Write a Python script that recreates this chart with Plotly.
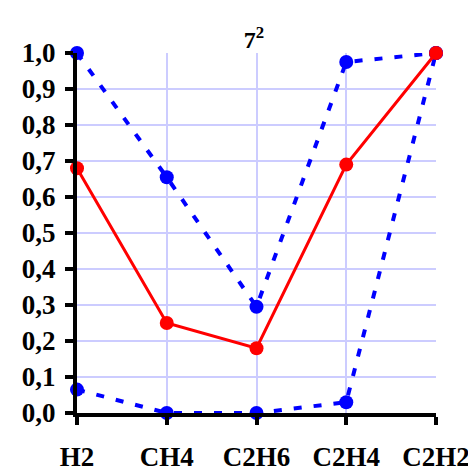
import plotly.graph_objects as go

categories = ["H2", "CH4", "C2H6", "C2H4", "C2H2"]
upper_blue = [1.0, 0.655, 0.295, 0.975, 1.0]
red_mid = [0.68, 0.25, 0.18, 0.69, 1.0]
lower_blue = [0.065, 0.0, 0.0, 0.03, 1.0]
y_ticks = [0.0, 0.1, 0.2, 0.3, 0.4, 0.5, 0.6, 0.7, 0.8, 0.9, 1.0]

# page has an 8px body margin; the figure is sized to fit the 476x475 window
W, H = 468, 467
xs = list(range(len(categories)))
fig = go.Figure()
fig.add_trace(go.Scatter(x=xs, y=upper_blue, mode="lines+markers",
                         line=dict(color="#0000ff", width=4, dash="8px,12px"),
                         marker=dict(color="#0000ff", size=14), cliponaxis=False))
fig.add_trace(go.Scatter(x=xs, y=lower_blue, mode="lines+markers",
                         line=dict(color="#0000ff", width=4, dash="8px,12px"),
                         marker=dict(color="#0000ff", size=14), cliponaxis=False))
fig.add_trace(go.Scatter(x=xs, y=red_mid, mode="lines+markers",
                         line=dict(color="#ff0000", width=3),
                         marker=dict(color="#ff0000", size=14), cliponaxis=False))

font = dict(family="Liberation Serif", size=27, color="black")
fig.update_layout(
    width=W, height=H, showlegend=False,
    plot_bgcolor="white", paper_bgcolor="white",
    separators=", ",
    margin=dict(l=69, r=W - 428, t=45, b=H - 405, autoexpand=False),
    title=dict(text="<b>7<sup>2</sup></b>", x=246 / W, xanchor="center",
               y=1 - 32 / H, yanchor="middle",
               font=dict(family="Liberation Serif", size=24, color="black")),
)
fig.update_xaxes(
    tickmode="array", tickvals=xs, ticktext=[f"<b>{c}</b>" for c in categories],
    range=[0, len(categories) - 1], showgrid=True, gridcolor="#ccccff", gridwidth=1.5,
    showline=True, linecolor="black", linewidth=4, ticks="outside", ticklen=8, tickwidth=4,
    tickcolor="black", tickfont=font, ticklabelstandoff=9, zeroline=False, automargin=False,
)
fig.update_yaxes(
    tickmode="array", tickvals=y_ticks, ticktext=[f"<b>{v:.1f}</b>".replace(".", ",") for v in y_ticks],
    range=[0, 1], showgrid=True, gridcolor="#ccccff", gridwidth=1.5,
    showline=True, linecolor="black", linewidth=4, ticks="outside", ticklen=8, tickwidth=4,
    tickcolor="black", tickfont=font, ticklabelstandoff=4, zeroline=False, automargin=False,
)
fig.write_html("out.html")
